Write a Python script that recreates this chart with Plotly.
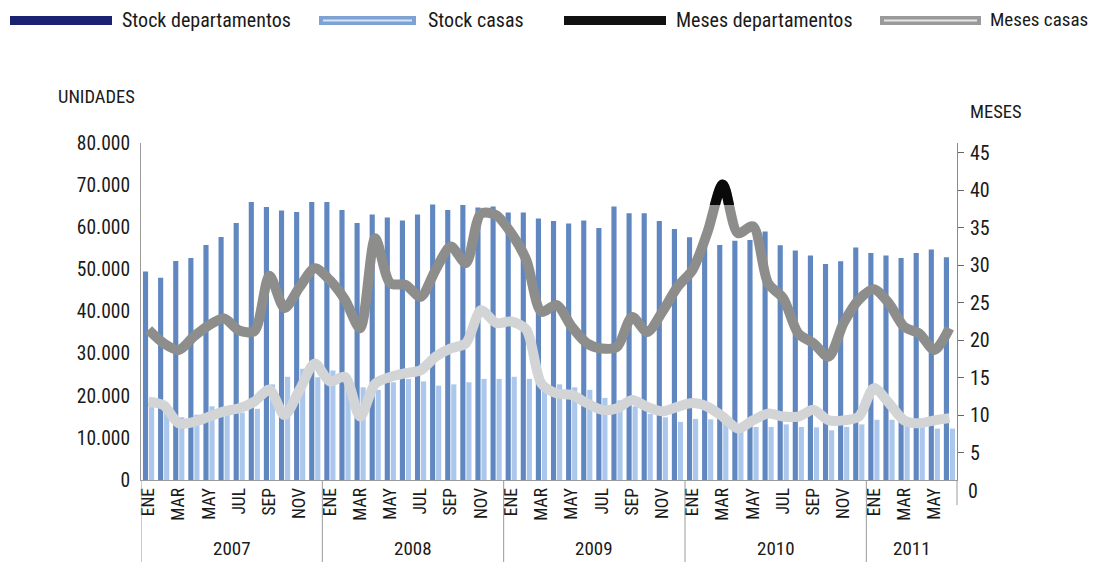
import plotly.graph_objects as go

anios = ["2007", "2008", "2009", "2010", "2011"]
meses = ["ENE", "FEB", "MAR", "ABR", "MAY", "JUN", "JUL", "AGO", "SEP", "OCT", "NOV", "DIC"]
periodos = [f"{m} {a}" for a in anios for m in meses][:54]

stock_deptos = [
    49500, 48000, 52000, 52700, 55800, 57700, 61000, 66000, 64800, 64000, 63600, 66000,
    66000, 64100, 61000, 63000, 62300, 61600, 63000, 65400, 64100, 65300, 64700, 64900,
    63500, 63500, 62100, 61500, 60900, 61600, 59800, 64900, 63300, 63300, 61500, 59600,
    57600, 57000, 55800, 56800, 57000, 59000, 55700, 54500, 53300, 51300, 51900, 55200,
    53900, 53300, 52700, 53900, 54700, 52900,
]
stock_casas = [
    17300, 16000, 14900, 15500, 17500, 15500, 16000, 16900, 22700, 24500, 26400, 24400,
    26000, 24000, 22000, 21400, 23200, 24000, 23400, 22400, 22700, 23200, 24000, 24000,
    24500, 24000, 22400, 22700, 22000, 21400, 19500, 18900, 17500, 15700, 14900, 13800,
    14500, 14400, 13400, 12000, 12600, 12600, 13200, 12600, 12500, 11800, 12600, 13200,
    14300, 14300, 13400, 13000, 12200, 12200,
]
meses_deptos = [
    21.4, 19.6, 18.7, 20.5, 22.0, 22.9, 21.3, 21.2, 28.6, 24.3, 27.1, 29.6,
    28.0, 25.4, 21.6, 33.6, 27.6, 27.4, 25.8, 29.4, 32.5, 30.3, 36.9, 36.7,
    34.3, 30.7, 23.8, 24.7, 21.8, 19.6, 18.9, 19.1, 23.1, 21.1, 23.8, 27.1,
    29.4, 34.5, 40.8, 34.3, 35.2, 27.6, 25.6, 20.9, 19.6, 17.8, 22.3, 25.4,
    26.8, 24.9, 21.8, 20.9, 18.7, 21.6,
]
meses_casas = [
    11.8, 11.3, 8.9, 9.1, 9.8, 10.5, 10.9, 11.8, 13.4, 10.0, 13.4, 16.9,
    14.5, 15.1, 9.8, 14.2, 15.1, 15.6, 16.0, 17.8, 18.9, 19.6, 24.0, 22.3,
    22.5, 21.4, 14.2, 12.9, 12.7, 11.6, 10.7, 10.9, 12.0, 11.1, 10.5, 11.1,
    11.6, 11.1, 9.8, 8.2, 9.3, 10.2, 9.8, 9.8, 10.7, 9.3, 9.3, 9.8,
    13.6, 11.6, 9.3, 8.9, 9.3, 9.6,
]

FONT = "Roboto Condensed, Liberation Sans Narrow, DejaVu Sans Condensed, sans-serif"
TXT = "#1a1a1a"

# page body has an 8px margin, so the figure is drawn 8px smaller
OFF = 8
# plot area in reference pixels
L, R, T, B = 141, 957, 143, 480
W, H = R - L, B - T
Y0_MESES, PX_MES = 490, 7.49   # pixel of 0 months and pixels per month on right axis
Y_NEGRO = 205                  # above this pixel the months line turns black


def px(x):
    return (x - L) / W


def py(y):
    return (B - y) / H


fig = go.Figure()
fig.add_bar(x=periodos, y=stock_deptos, name="Stock departamentos",
            marker=dict(color="#6087c0", line_width=0), showlegend=False)
fig.add_bar(x=periodos, y=stock_casas, name="Stock casas",
            marker=dict(color="#abc7eb", line_width=0), showlegend=False)
linea = dict(width=10, shape="spline", smoothing=0.8)
fig.add_scatter(x=periodos, y=meses_deptos, yaxis="y2", mode="lines", name="Meses departamentos",
                line=dict(color="#8d8e8b", **linea), showlegend=False)
# same line, clipped to the top band where it shows black
fig.add_scatter(x=periodos, y=meses_deptos, yaxis="y3", mode="lines", name="Meses departamentos",
                line=dict(color="#0a0a0a", **linea), showlegend=False, hoverinfo="skip")
fig.add_scatter(x=periodos, y=meses_casas, yaxis="y2", mode="lines", name="Meses casas",
                line=dict(color="#d3d4d6", **linea), showlegend=False)

shapes = []
annotations = []

# legend drawn by hand
leyenda = [
    (10, 112, "#1c2272", None, "Stock departamentos", 120, 20),
    (319, 416, "#7ea2d3", "#d6e4f5", "Stock casas", 426, 20),
    (564, 666, "#111111", None, "Meses departamentos", 674, 20),
    (880, 981, "#9a9a9a", "#e6e6e6", "Meses casas", 988, 19),
]
for x0, x1, col, stripe, txt, xt, fs in leyenda:
    shapes.append(dict(type="rect", xref="paper", yref="paper", x0=px(x0), x1=px(x1),
                       y0=py(25), y1=py(16), fillcolor=col, line_width=0, layer="above"))
    if stripe:
        shapes.append(dict(type="rect", xref="paper", yref="paper", x0=px(x0 + 4), x1=px(x1 - 4),
                           y0=py(21.5), y1=py(19.5), fillcolor=stripe, line_width=0, layer="above"))
    annotations.append(dict(text=txt, xref="paper", yref="paper", x=px(xt), y=py(20),
                            xanchor="left", yanchor="middle", showarrow=False,
                            font=dict(size=fs, color=TXT, family=FONT)))

# year separators and labels
for k, a in enumerate(anios):
    shapes.append(dict(type="line", xref="x", yref="paper", x0=12 * k - 0.5, x1=12 * k - 0.5,
                       y0=0, y1=py(562), line=dict(color="#9a9a9a", width=1)))
    centro = 12 * k + (min(12, len(periodos) - 12 * k) - 1) / 2
    annotations.append(dict(text=a, xref="x", yref="paper", x=centro, y=py(548),
                            xanchor="center", yanchor="middle", showarrow=False,
                            font=dict(size=19, color=TXT, family=FONT)))
shapes.append(dict(type="line", xref="paper", yref="paper", x0=1, x1=1, y0=0, y1=py(505),
                   line=dict(color="#9a9a9a", width=1)))

annotations += [
    dict(text="UNIDADES", xref="paper", yref="paper", x=px(56), y=py(97), xanchor="left",
         yanchor="middle", showarrow=False, font=dict(size=18.5, color=TXT, family=FONT)),
    dict(text="MESES", xref="paper", yref="paper", x=px(968), y=py(112), xanchor="left",
         yanchor="middle", showarrow=False, font=dict(size=18.5, color=TXT, family=FONT)),
    dict(text="0", xref="paper", yref="paper", x=px(966), y=py(491), xanchor="left",
         yanchor="middle", showarrow=False, font=dict(size=20, color=TXT, family=FONT)),
]

r0 = (Y0_MESES - B) / PX_MES
r1 = (Y0_MESES - T) / PX_MES
rn = (Y0_MESES - Y_NEGRO) / PX_MES

fig.update_layout(
    width=1099 - OFF, height=570 - OFF,
    margin=dict(l=L - OFF, r=1099 - R, t=T - OFF, b=570 - B),
    paper_bgcolor="white", plot_bgcolor="rgba(0,0,0,0)",
    barmode="group", bargap=0.2, bargroupgap=0.15,
    separators=",.",
    font=dict(family=FONT, color=TXT),
    xaxis=dict(type="category", range=[-0.5, len(periodos) - 0.5],
               tickvals=periodos[0::2], ticktext=[p.split()[0] for p in periodos[0::2]],
               tickangle=-90, tickfont=dict(size=17.5, color=TXT), ticks="",
               showline=True, linecolor="#9a9a9a", linewidth=1, showgrid=False),
    yaxis=dict(range=[0, 80000], dtick=10000, tickformat=",.0f", showgrid=False,
               zeroline=False, showline=True, linecolor="#9a9a9a", linewidth=1,
               ticks="", ticklabelstandoff=6, tickfont=dict(size=19.5, color=TXT)),
    yaxis2=dict(overlaying="y", side="right", range=[r0, r1],
                tickvals=[5, 10, 15, 20, 25, 30, 35, 40, 45], showgrid=False, zeroline=False,
                showline=True, linecolor="#8a8a8a", linewidth=1,
                ticks="outside", ticklen=6, tickcolor="#666", ticklabelstandoff=2,
                tickfont=dict(size=20, color=TXT)),
    yaxis3=dict(domain=[py(Y_NEGRO), 1], anchor="x", range=[rn, r1], visible=False,
                showgrid=False, zeroline=False),
    shapes=shapes, annotations=annotations,
)

fig.write_html("out.html")
